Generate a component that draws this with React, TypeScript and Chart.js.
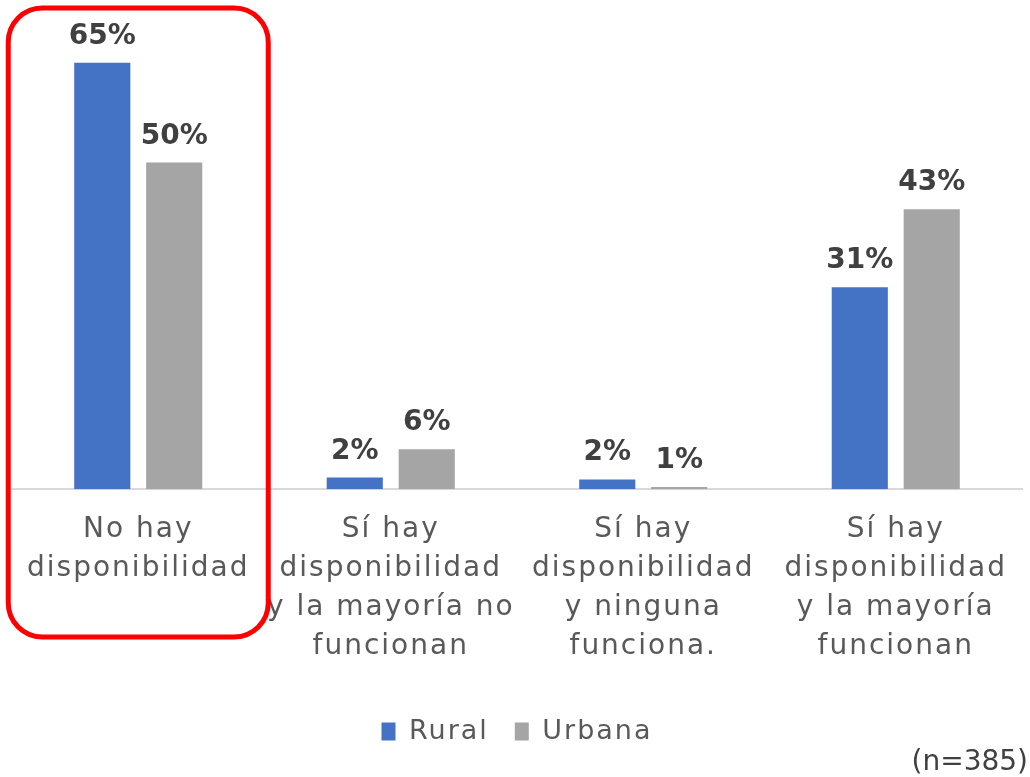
import React, { useEffect, useRef } from "react";
import { Chart, registerables } from "chart.js";

Chart.register(...registerables);

const categories: string[][] = [
  ["No hay", "disponibilidad"],
  ["Sí hay", "disponibilidad", "y la mayoría no", "funcionan"],
  ["Sí hay", "disponibilidad", "y ninguna", "funciona."],
  ["Sí hay", "disponibilidad", "y la mayoría", "funcionan"],
];
const ruralValues = [65, 1.8, 1.5, 30.8];
const urbanaValues = [49.8, 6.1, 0.35, 42.7];
const ruralLabels = ["65%", "2%", "2%", "31%"];
const urbanaLabels = ["50%", "6%", "1%", "43%"];
const sampleNote = "(n=385)";

const FONT = "'DejaVu Sans', 'Noto Sans', sans-serif";
const SPACING = "2px";

const decorPlugin = {
  id: "decor",
  beforeUpdate(chart: any) {
    chart.ctx.letterSpacing = SPACING;
  },
  beforeDraw(chart: any) {
    chart.ctx.letterSpacing = SPACING;
  },
  afterDatasetsDraw(chart: any) {
    const ctx = chart.ctx;
    const lists = [ruralLabels, urbanaLabels];
    ctx.save();
    ctx.letterSpacing = "0px";
    ctx.font = `bold 28px ${FONT}`;
    ctx.fillStyle = "#404040";
    ctx.textAlign = "center";
    ctx.textBaseline = "alphabetic";
    chart.data.datasets.forEach((_ds: any, di: number) => {
      const meta = chart.getDatasetMeta(di);
      meta.data.forEach((bar: any, i: number) => {
        ctx.fillText(lists[di][i], bar.x, bar.y - 19);
      });
    });
    ctx.restore();
  },
  afterDraw(chart: any) {
    const ctx = chart.ctx;
    const x = chart.scales.x;
    const c0 = x.getPixelForValue(0);
    const half = 130;
    ctx.save();
    ctx.strokeStyle = "#FF0000";
    ctx.lineWidth = 5;
    ctx.beginPath();
    ctx.roundRect(c0 - half, 8, half * 2, 629, 34);
    ctx.stroke();
    ctx.letterSpacing = "0px";
    ctx.font = `28px ${FONT}`;
    ctx.fillStyle = "#404040";
    ctx.textAlign = "right";
    ctx.textBaseline = "alphabetic";
    ctx.fillText(sampleNote, 1028, 770);
    ctx.restore();
  },
};

export default function App() {
  const ref = useRef<HTMLCanvasElement>(null);
  useEffect(() => {
    if (!ref.current) return;
    const chart = new Chart(ref.current, {
      type: "bar",
      data: {
        labels: categories,
        datasets: [
          { label: "Rural", data: ruralValues, backgroundColor: "#4472C4" },
          { label: "Urbana", data: urbanaValues, backgroundColor: "#A5A5A5" },
        ],
      },
      options: {
        animation: false,
        responsive: true,
        maintainAspectRatio: false,
        datasets: { bar: { categoryPercentage: 0.57, barPercentage: 0.78 } },
        layout: { padding: { left: 12, right: 8, top: 30, bottom: 22 } },
        scales: {
          x: {
            grid: { display: false, drawTicks: false },
            border: { display: true, color: "#D9D9D9", width: 2 },
            ticks: {
              color: "#595959",
              font: { family: FONT, size: 28, lineHeight: 1.39 },
              padding: 21,
              maxRotation: 0,
              autoSkip: false,
            },
            afterFit: (scale: any) => {
              scale.height += 5;
            },
          },
          y: {
            display: false,
            min: 0,
            max: 70,
          },
        },
        plugins: {
          legend: {
            position: "bottom",
            labels: {
              color: "#595959",
              font: { family: FONT, size: 27 },
              boxWidth: 14,
              boxHeight: 18,
              padding: 26,
            },
          },
          tooltip: { enabled: false },
        },
      },
      plugins: [decorPlugin],
    });
    return () => chart.destroy();
  }, []);
  return (
    <div style={{ position: "absolute", left: 0, top: 0, width: 1030, height: 777, background: "#fff" }}>
      <canvas ref={ref} />
    </div>
  );
}
